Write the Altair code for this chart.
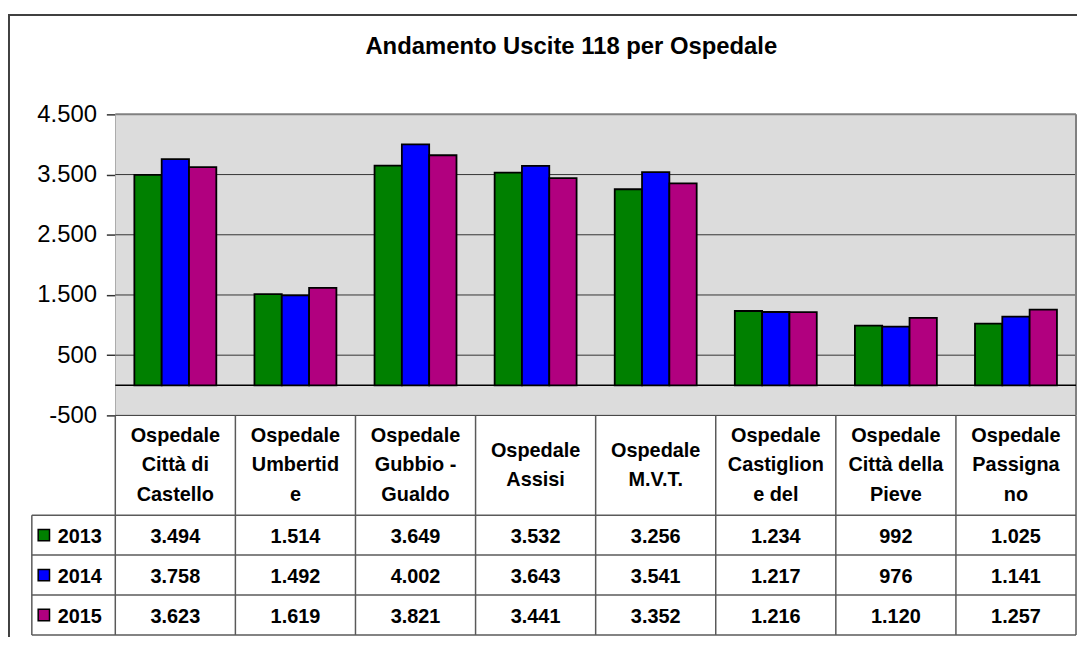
import altair as alt
import pandas as pd

# ---------------- data ----------------
categories = [
    "Ospedale\nCittà di\nCastello",
    "Ospedale\nUmbertid\ne",
    "Ospedale\nGubbio -\nGualdo",
    "Ospedale\nAssisi",
    "Ospedale\nM.V.T.",
    "Ospedale\nCastiglion\ne del",
    "Ospedale\nCittà della\nPieve",
    "Ospedale\nPassigna\nno",
]
years = ["2013", "2014", "2015"]
values_2013 = [3494, 1514, 3649, 3532, 3256, 1234, 992, 1025]
values_2014 = [3758, 1492, 4002, 3643, 3541, 1217, 976, 1141]
values_2015 = [3623, 1619, 3821, 3441, 3352, 1216, 1120, 1257]
y_ticks = [-500, 500, 1500, 2500, 3500, 4500]
colors = ["#008000", "#0000FF", "#B1007F"]
title_text = "Andamento Uscite 118 per Ospedale"

FONT = "Liberation Sans"
W = 967          # plot width
H = 524          # plot + table height
PLOT_H = 303     # bar area height
ROW_PX = (H - PLOT_H) / 5.5
LINE_H = 29.5

series = {"2013": values_2013, "2014": values_2014, "2015": values_2015}
rows = []
for r, yr in enumerate(years):
    for i, (c, v) in enumerate(zip(categories, series[yr])):
        rows.append({"cat": c, "idx": i + 0.5, "year": yr, "value": v,
                     "label": f"{v:,}".replace(",", "."), "row": 3 + r})
df = pd.DataFrame(rows)
one = pd.DataFrame({"a": [0]})

# ---------------- bar plot ----------------
yscale = alt.Scale(domain=[y_ticks[0], y_ticks[-1]], range=[PLOT_H, 0], nice=False)
yaxis = alt.Axis(
    values=y_ticks,
    labelExpr="replace(replace(format(datum.value, ','), ',', '.'), '\u2212', '-')",
    grid=False, title=None, labelFontSize=24, labelFont=FONT, labelColor="black",
    tickSize=9, tickColor="#333333", tickWidth=1.5, domainColor="#333333",
    domainWidth=1.5, labelPadding=10,
)
color = alt.Color("year:N", scale=alt.Scale(domain=years, range=colors), legend=None)

bg = alt.Chart(one).mark_rect(fill="#DCDCDC").encode(
    x=alt.value(0), x2=alt.value(W),
    y=alt.YDatum(y_ticks[-1], scale=yscale, axis=yaxis), y2=alt.datum(y_ticks[0]),
)
grid = alt.Chart(pd.DataFrame({"v": y_ticks[:-1]})).mark_rule(color="#333333", strokeWidth=1).encode(
    y=alt.Y("v:Q", scale=yscale, axis=yaxis), x=alt.value(0), x2=alt.value(W),
)
top_border = alt.Chart(one).mark_rule(color="#808080", strokeWidth=2).encode(
    y=alt.YDatum(y_ticks[-1], scale=yscale, axis=yaxis), x=alt.value(0), x2=alt.value(W),
)
right_border = alt.Chart(one).mark_rule(color="#808080", strokeWidth=2).encode(
    x=alt.value(W), y=alt.YDatum(y_ticks[-1], scale=yscale, axis=yaxis), y2=alt.datum(y_ticks[0]),
)
zero = alt.Chart(one).mark_rule(color="black", strokeWidth=1.5).encode(
    y=alt.YDatum(0, scale=yscale, axis=yaxis), x=alt.value(0), x2=alt.value(W),
)
bars = alt.Chart(df).mark_bar(stroke="black", strokeWidth=1.8).encode(
    x=alt.X("cat:N", sort=categories, scale=alt.Scale(paddingInner=0, paddingOuter=0), axis=None),
    xOffset=alt.XOffset("year:N", sort=years, scale=alt.Scale(paddingInner=0, paddingOuter=0.698)),
    y=alt.Y("value:Q", scale=yscale, axis=yaxis),
    y2=alt.datum(0),
    color=color,
)
plot = alt.layer(bg, grid, top_border, right_border, zero, bars)

# ---------------- data table ----------------
LEG = -0.695
tx = alt.Scale(domain=[0, len(categories)], nice=False, zero=False)
ty = alt.Scale(domain=[0, 5.5], range=[PLOT_H, H], nice=False, zero=False)

n_lines = [c.count("\n") + 1 for c in categories]
hdr = pd.DataFrame({
    "cat": categories,
    "idx": [i + 0.5 for i in range(len(categories))],
    # first line so that the whole block is centred in the header row
    "hy": [1.25 - (n - 1) * LINE_H / 2 / ROW_PX for n in n_lines],
})
header = alt.Chart(hdr).mark_text(
    font=FONT, fontSize=20, fontWeight="bold", lineBreak="\n", lineHeight=LINE_H,
    align="center", baseline="middle", color="black",
).encode(
    x=alt.X("idx:Q", scale=tx, axis=None),
    y=alt.Y("hy:Q", scale=ty, axis=None),
    text="cat:N",
)
cells = alt.Chart(df).mark_text(
    font=FONT, fontSize=20, fontWeight="bold", align="center", baseline="middle",
    color="black", dy=2,
).encode(
    x=alt.X("idx:Q", scale=tx, axis=None),
    y=alt.Y("row:Q", scale=ty, axis=None),
    text="label:N",
)
leg_df = pd.DataFrame({"year": years, "row": [3, 4, 5], "kx": [LEG + 0.1] * 3, "lx": [LEG + 0.215] * 3})
keys = alt.Chart(leg_df).mark_square(size=130, opacity=1, stroke="black", strokeWidth=1.5).encode(
    x=alt.X("kx:Q", scale=tx, axis=None),
    y=alt.Y("row:Q", scale=ty, axis=None),
    color=color,
)
key_labels = alt.Chart(leg_df).mark_text(
    font=FONT, fontSize=20, fontWeight="bold", align="left", baseline="middle", color="black", dy=2,
).encode(
    x=alt.X("lx:Q", scale=tx, axis=None),
    y=alt.Y("row:Q", scale=ty, axis=None),
    text="year:N",
)
hlines_df = pd.DataFrame({"y": [2.5, 3.5, 4.5, 5.5], "x": [LEG] * 4, "x2": [len(categories)] * 4})
hlines = alt.Chart(hlines_df).mark_rule(color="#5A5A5A", strokeWidth=1.5).encode(
    x=alt.X("x:Q", scale=tx, axis=None), x2="x2:Q",
    y=alt.Y("y:Q", scale=ty, axis=None),
)
vx = list(range(len(categories) + 1)) + [LEG]
vy = [0.0] * (len(categories) + 1) + [2.5]
vlines_df = pd.DataFrame({"x": vx, "y": vy, "y2": [5.5] * len(vx)})
vlines = alt.Chart(vlines_df).mark_rule(color="#5A5A5A", strokeWidth=1.5).encode(
    x=alt.X("x:Q", scale=tx, axis=None),
    y=alt.Y("y:Q", scale=ty, axis=None), y2="y2:Q",
)
title = alt.Chart(pd.DataFrame({"t": [title_text]})).mark_text(
    font=FONT, fontSize=24, fontWeight="bold", align="center", baseline="alphabetic", color="black",
).encode(text="t:N", x=alt.value(459), y=alt.value(-61))
frame_left = alt.Chart(one).mark_rule(color="#404040", strokeWidth=2).encode(
    x=alt.value(-107), y=alt.value(-100), y2=alt.value(560))
frame_top = alt.Chart(one).mark_rule(color="#404040", strokeWidth=2).encode(
    x=alt.value(-108), x2=alt.value(1000), y=alt.value(-100))

table = alt.layer(hlines, vlines, header, cells, keys, key_labels, title, frame_left, frame_top)

chart = alt.layer(plot, table).resolve_scale(x="independent", y="independent").properties(
    width=W, height=H,
    autosize=alt.AutoSizeParams(type="none"),
    padding={"left": 108, "top": 105, "right": 1, "bottom": 0},
    background="white",
).configure_view(stroke=None)

chart.save("out.html", embed_options={"renderer": "svg", "actions": False})
